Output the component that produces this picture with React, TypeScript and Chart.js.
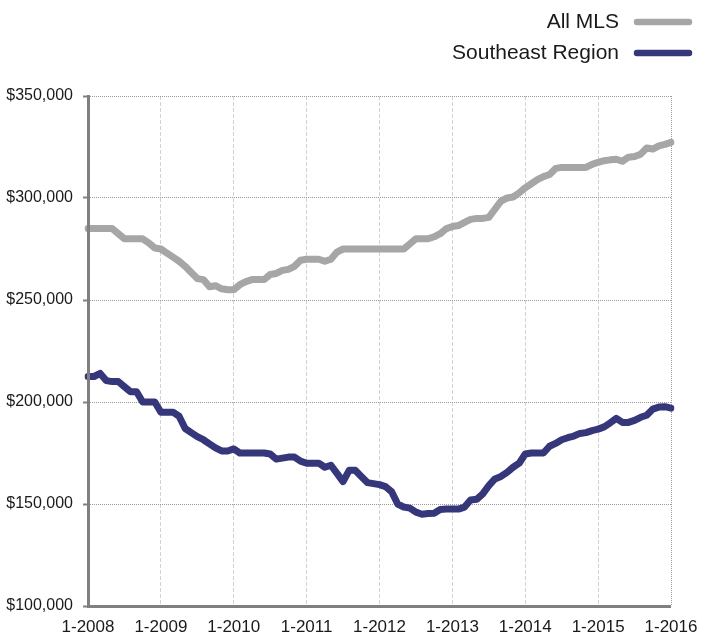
import React, { useEffect, useRef } from "react";
import { Chart, registerables } from "chart.js";

Chart.register(...registerables);

// Categories: monthly, 1-2008 .. 1-2016
const years = [2008, 2009, 2010, 2011, 2012, 2013, 2014, 2015];
const months = [1, 2, 3, 4, 5, 6, 7, 8, 9, 10, 11, 12];
const categories: string[] = [];
for (const y of years) for (const m of months) categories.push(`${m}-${y}`);
categories.push("1-2016");

// Median prices, in thousands of dollars
const allMLS = [
  285, 285, 285, 285, 285,
  282.5, 280, 280, 280, 280,
  278, 275.5, 275, 273, 271,
  269, 266.5, 263.5, 260.5, 260,
  256.5, 257, 255.5, 255, 255,
  257.5, 259, 260, 260, 260,
  262.5, 263, 264.5, 265, 266.5,
  269.5, 270, 270, 270, 269,
  270, 273.5, 275, 275, 275,
  275, 275, 275, 275, 275,
  275, 275, 275, 277.5, 280,
  280, 280, 281, 282.5, 285,
  286, 286.5, 288, 289.5, 290,
  290, 290.5, 294.5, 298.5, 300,
  300.5, 302.5, 305, 307, 309,
  310.5, 311.5, 314.5, 315, 315,
  315, 315, 315, 316.5, 317.5,
  318.3, 318.7, 319, 318, 320,
  320.3, 321.5, 324.5, 324, 325.5,
  326.3, 327.3,
];

const southeast = [
  212.5, 212.5, 214, 210.5, 210,
  210, 207.5, 205, 205, 200,
  200, 200, 195, 195, 195,
  193, 187, 185, 183, 181.5,
  179.5, 177.5, 176, 176, 177,
  175, 175, 175, 175, 175,
  174.5, 172, 172.5, 173, 173,
  171, 170, 170, 170, 168,
  169, 165, 161, 166.5, 166.5,
  163.5, 160.5, 160, 159.5, 158.5,
  156, 150, 148.5, 148, 146,
  145, 145.3, 145.5, 147.3, 147.5,
  147.5, 147.5, 148.5, 152, 152.3,
  155, 159, 162.3, 163.5, 165.5,
  168, 170, 174.5, 175, 175,
  175, 178.3, 179.7, 181.5, 182.5,
  183.3, 184.6, 185, 186, 186.7,
  187.8, 189.8, 192, 190, 190,
  191, 192.5, 193.5, 196.5, 197.5,
  197.7, 197,
];

const seriesNames = ["All MLS", "Southeast Region"];
const seriesColors = ["#a6a6a6", "#35377a"];

const yMin = 100000;
const yMax = 350000;
const yStep = 50000;

const FONT = '"Liberation Sans", Arial, Helvetica, sans-serif';

const legendPlugin = {
  id: "rightLegend",
  afterDraw(chart: any) {
    const ctx = chart.ctx as CanvasRenderingContext2D;
    ctx.save();
    ctx.font = `21px ${FONT}`;
    ctx.textAlign = "right";
    ctx.textBaseline = "middle";
    chart.data.datasets.forEach((ds: any, i: number) => {
      const y = 22 + i * 31;
      ctx.fillStyle = "#1a1a1a";
      ctx.fillText(ds.label, 619, y);
      ctx.strokeStyle = ds.borderColor;
      ctx.lineWidth = 6.5;
      ctx.lineCap = "round";
      ctx.beginPath();
      ctx.moveTo(637, y);
      ctx.lineTo(689, y);
      ctx.stroke();
    });
    ctx.restore();
  },
};

export default function App() {
  const ref = useRef<HTMLCanvasElement | null>(null);

  useEffect(() => {
    if (!ref.current) return;
    const chart = new Chart(ref.current, {
      type: "line",
      data: {
        labels: categories,
        datasets: [
          {
            label: seriesNames[0],
            data: allMLS.map((v) => v * 1000),
            borderColor: seriesColors[0],
            backgroundColor: seriesColors[0],
          },
          {
            label: seriesNames[1],
            data: southeast.map((v) => v * 1000),
            borderColor: seriesColors[1],
            backgroundColor: seriesColors[1],
          },
        ],
      },
      options: {
        responsive: false,
        animation: false,
        layout: { padding: { top: 96, right: 43, left: 0, bottom: 0 } },
        plugins: { legend: { display: false }, tooltip: { enabled: false } },
        elements: {
          point: { radius: 0 },
          line: {
            tension: 0,
            borderWidth: 7,
            borderCapStyle: "round",
            borderJoinStyle: "round",
          },
        },
        scales: {
          x: {
            type: "category",
            offset: false,
            grid: {
              color: (c: any) =>
                c.index % 12 === 0 ? (c.index === 96 ? "#9a9a9a" : "#d2d2d2") : "transparent",
              lineWidth: (c: any) => (c.index % 12 === 0 && c.index !== 0 ? 1 : 0),
              drawTicks: false,
            },
            border: {
              display: true,
              color: "#808080",
              width: 3,
              z: 1,
              dash: (c: any) => (c.index === 96 ? [1, 1] : [4, 2]),
            },
            ticks: {
              autoSkip: false,
              maxRotation: 0,
              minRotation: 0,
              padding: 11,
              color: "#1a1a1a",
              font: { family: FONT, size: 17 },
              callback: (_v: any, i: number) => (i % 12 === 0 ? categories[i] : ""),
            },
            afterFit: (s: any) => {
              s.height = 27;
            },
          },
          y: {
            min: yMin,
            max: yMax,
            ticks: {
              stepSize: yStep,
              padding: 10,
              color: "#1a1a1a",
              font: { family: FONT, size: 16 },
              callback: (v: any) => "$" + Number(v).toLocaleString("en-US"),
            },
            grid: {
              color: "#9a9a9a",
              lineWidth: 1,
              tickColor: "#808080",
              tickLength: 5,
              tickWidth: 2,
            },
            border: { display: true, color: "#808080", width: 3, z: 1, dash: [1, 1] },
            afterFit: (s: any) => {
              s.width = 88;
            },
          },
        },
      },
      plugins: [legendPlugin],
    });
    return () => chart.destroy();
  }, []);

  return (
    <div style={{ position: "absolute", left: 0, top: 0, width: 714, height: 633 }}>
      <canvas ref={ref} width={714} height={633} style={{ display: "block" }} />
    </div>
  );
}
